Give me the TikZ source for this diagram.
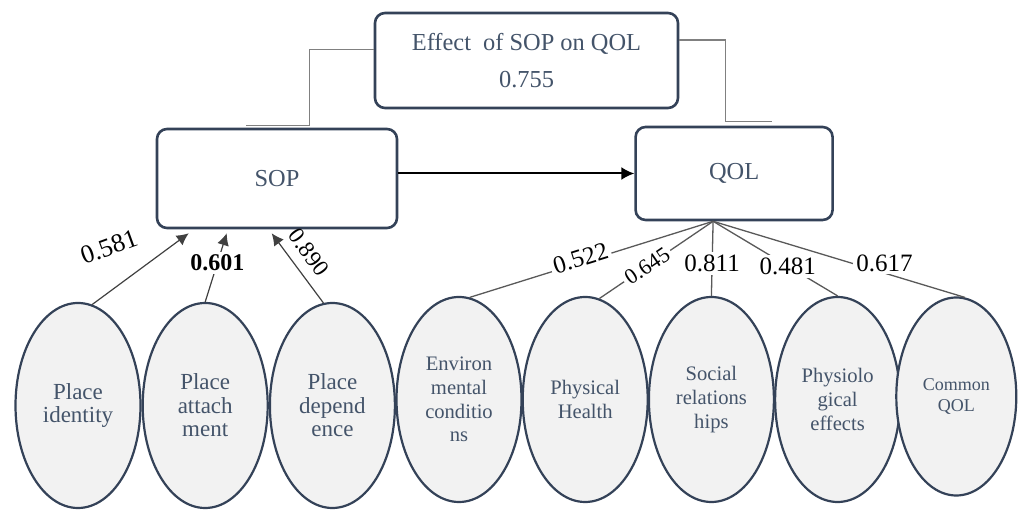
\documentclass[tikz,border=0pt]{standalone}
\usepackage{fontspec}
\setmainfont{Liberation Serif}
\usepackage{xcolor}
\usepackage{tikz}
\usetikzlibrary{arrows.meta,calc,positioning,shapes.geometric}
\definecolor{inkSlate}{RGB}{52,66,88}
\definecolor{textSlate}{RGB}{68,84,106}
\definecolor{panelGray}{RGB}{242,242,242}

\begin{document}
\begin{tikzpicture}[
    x=0.5pt, y=-0.5pt,
    >=Latex,
    flow/.style={-{Latex[length=6.5pt,width=6.5pt]}, line width=1pt, draw=black},
    load/.style={-{Latex[length=6pt,width=6pt]}, line width=0.6pt, draw=black!75},
    spoke/.style={line width=0.65pt, draw=black!65},
    link/.style={line width=0.7pt, draw=black!50},
    construct/.style={
      rectangle,
      rounded corners=5pt,
      draw=inkSlate,
      line width=1.3pt,
      fill=white,
      text=textSlate,
      align=center,
      font=\fontsize{12.2}{18.5}\selectfont
    },
    trait/.style={
      ellipse,
      draw=inkSlate,
      line width=1.1pt,
      fill=panelGray,
      text=textSlate,
      align=center,
      inner sep=0pt,
      minimum width=62.5pt,
      minimum height=102.5pt,
      font=\fontsize{11.5}{11.8}\selectfont
    },
    coef/.style={font=\fontsize{12.5}{12.5}\selectfont, inner sep=1.5pt, fill=white}
  ]
    \useasboundingbox (0,0) rectangle (1027,512);

    % upper row
    \node[construct, minimum width=151.5pt, minimum height=47.5pt] (effect) at (526.5,60.5) {
      Effect\ \ of SOP on QOL\\
      0.755
    };
    \node[construct, minimum width=120pt, minimum height=49.5pt] (sop) at (277,178.5) {SOP};
    \node[construct, minimum width=98.5pt, minimum height=46.5pt, right=118pt of sop, yshift=2.5pt] (qol) {QOL};

    \draw[flow] (sop.east |- qol.west) -- (qol.west);

    \coordinate (hookL1) at ($(sop.north west)+(154,-2)$);
    \coordinate (hookL2) at ($(sop.north west)+(90,-2)$);
    \coordinate (hookR1) at ($(qol.north west)+(91,-4)$);
    \coordinate (hookR2) at ($(qol.north west)+(138,-4)$);
    \draw[link] ($(effect.north west)!0.39!(effect.south west)$) -| (hookL1) -- (hookL2);
    \draw[link] ($(effect.north east)!0.29!(effect.south east)$) -| (hookR1) -- (hookR2);

    % SOP dimensions
    \node[trait] (identity) at (78,405.5) {Place\\identity};
    \node[trait, right=0pt of identity] (attach) {Place\\attach\\ment};
    \node[trait, right=0pt of attach] (depend) {Place\\depend\\ence};

    \draw[load] (identity.82) -- ($(sop.south west)+(33,4)$);
    \node[coef, fill=none, rotate=20, font=\fontsize{13}{13}\selectfont] (c581) at (109,247) {0.581};
    \draw[load] (attach.north) -- ($(sop.south west)+(71,4)$)
      node[coef, pos=0.57, font=\bfseries\fontsize{12}{12}\selectfont] (c601) {0.601};
    \draw[load] (depend.95) -- ($(sop.south west)+(116,4)$)
      node[coef, fill=none, pos=0.57, sloped, above=3.5pt, font=\fontsize{11.5}{11.5}\selectfont] (c890) {0.890};

    % QOL dimensions
    \node[trait, font=\fontsize{10.3}{11.8}\selectfont] (environ) at (459,399.5) {Environ\\mental\\conditio\\ns};
    \node[trait, font=\fontsize{10.3}{11.8}\selectfont, right=-0.5pt of environ] (physical) {Physical\\Health};
    \node[trait, font=\fontsize{10.3}{11.8}\selectfont, right=-0.5pt of physical] (social) {Social\\relations\\hips};
    \node[trait, font=\fontsize{10.3}{11.8}\selectfont, right=-0.5pt of social] (physio) {Physiolo\\gical\\effects};
    \node[trait, minimum width=60pt, minimum height=99pt, right=-3pt of physio, yshift=1.5pt,
      font=\fontsize{9}{10.5}\selectfont] (common) {Common\\QOL};

    \coordinate (qolFoot) at ($(qol.south)+(-21,0)$);
    \draw[spoke] (qolFoot) -- (environ.84) node[coef, pos=0.54, sloped, above=-4pt] (c522) {0.522};
    \draw[spoke] (qolFoot) -- (physical.82)
      node[coef, pos=0.58, sloped, font=\fontsize{11}{11}\selectfont] (c645) {0.645};
    \draw[spoke] (qolFoot) -- (social.north) node[coef, pos=0.57] (c811) {0.811};
    \draw[spoke] (qolFoot) -- (physio.north) node[coef, pos=0.6] (c481) {0.481};
    \draw[spoke] (qolFoot) -- (common.85) node[coef, pos=0.68, above=-1pt] (c617) {0.617};
  \end{tikzpicture}
\end{document}
